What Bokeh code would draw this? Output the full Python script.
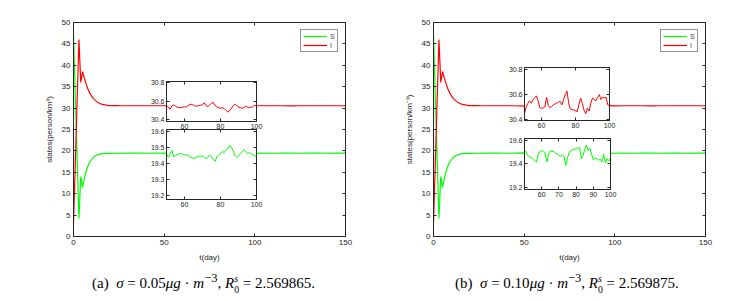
from bokeh.plotting import figure
from bokeh.models import Range1d, FixedTicker, LinearAxis, Div, InlineStyleSheet
from bokeh.embed import file_html
from bokeh.resources import INLINE

# ---------------- data ----------------
# early transient (days) shared by both panels
t_early = [0, 3, 4, 5, 6, 7, 8, 9, 10, 11, 12, 13, 14, 15, 16, 18, 20, 25, 30, 35, 40, 45]
I_early = [3.0, 46.0, 36.0, 38.5, 37.0, 35.6, 34.4, 33.5, 32.8, 32.2, 31.8, 31.45, 31.2, 31.0,
           30.85, 30.7, 30.6, 30.56, 30.55, 30.545, 30.55, 30.545]
S_early = [47.0, 4.2, 14.0, 11.5, 13.6, 15.3, 16.5, 17.4, 18.0, 18.5, 18.8, 19.05, 19.2, 19.3,
           19.36, 19.42, 19.44, 19.455, 19.46, 19.46, 19.455, 19.46]

# zoomed window, one value per day 50..100
t_mid = list(range(50, 101))
I_a = [30.546, 30.54, 30.512, 30.55, 30.557, 30.545, 30.53, 30.528, 30.53, 30.535,
       30.536, 30.538, 30.55, 30.562, 30.565, 30.555, 30.545, 30.546, 30.553, 30.555,
       30.56, 30.582, 30.55, 30.538, 30.56, 30.575, 30.586, 30.55, 30.536, 30.53,
       30.522, 30.528, 30.52, 30.5, 30.482, 30.495, 30.52, 30.55, 30.565, 30.55,
       30.536, 30.53, 30.522, 30.53, 30.545, 30.536, 30.53, 30.533, 30.54, 30.555, 30.55]
S_a = [19.459, 19.438, 19.46, 19.48, 19.44, 19.45, 19.455, 19.458, 19.46, 19.457,
       19.453, 19.452, 19.45, 19.44, 19.435, 19.428, 19.432, 19.44, 19.445, 19.44,
       19.449, 19.44, 19.428, 19.44, 19.453, 19.44, 19.425, 19.412, 19.44, 19.452,
       19.459, 19.474, 19.466, 19.48, 19.49, 19.511, 19.5, 19.48, 19.45, 19.438,
       19.445, 19.46, 19.474, 19.486, 19.47, 19.46, 19.466, 19.46, 19.453, 19.446, 19.443]
I_b = [30.447, 30.50, 30.53, 30.55, 30.53, 30.558, 30.575, 30.59, 30.55, 30.495,
       30.489, 30.492, 30.5, 30.578, 30.511, 30.494, 30.505, 30.517, 30.525, 30.53,
       30.54, 30.544, 30.517, 30.56, 30.6, 30.628, 30.53, 30.483, 30.478, 30.475,
       30.468, 30.461, 30.52, 30.572, 30.53, 30.475, 30.444, 30.49, 30.467, 30.53,
       30.572, 30.56, 30.55, 30.578, 30.6, 30.56, 30.58, 30.572, 30.58, 30.517, 30.51]
S_b = [19.52, 19.5, 19.469, 19.456, 19.45, 19.44, 19.428, 19.414, 19.483, 19.505,
       19.511, 19.503, 19.497, 19.414, 19.483, 19.511, 19.505, 19.503, 19.49, 19.483,
       19.47, 19.461, 19.478, 19.461, 19.386, 19.45, 19.5, 19.511, 19.52, 19.525,
       19.525, 19.533, 19.539, 19.442, 19.469, 19.52, 19.558, 19.511, 19.531, 19.483,
       19.433, 19.45, 19.442, 19.428, 19.44, 19.414, 19.483, 19.406, 19.442, 19.422, 19.45]

# tail
t_late = [105, 110, 115, 120, 125, 130, 135, 140, 145, 150]
I_late = [30.55, 30.545, 30.55, 30.54, 30.55, 30.545, 30.55, 30.55, 30.545, 30.55]
S_late = [19.46, 19.455, 19.46, 19.465, 19.455, 19.46, 19.46, 19.455, 19.46, 19.46]

main_xticks = [0, 50, 100, 150]
main_yticks = [0, 5, 10, 15, 20, 25, 30, 35, 40, 45, 50]

captions = [
    "(a)&nbsp;&nbsp;<i>σ</i> = 0.05<i>μg</i> · <i>m</i><sup>−3</sup>, <i>R</i>"
    "<span style='display:inline-block;vertical-align:-0.5em;font-size:0.65em;line-height:1.1;'><i>s</i><br>0</span>"
    " = 2.569865.",
    "(b)&nbsp;&nbsp;<i>σ</i> = 0.10<i>μg</i> · <i>m</i><sup>−3</sup>, <i>R</i>"
    "<span style='display:inline-block;vertical-align:-0.5em;font-size:0.65em;line-height:1.1;'><i>s</i><br>0</span>"
    " = 2.569875.",
]

GREEN = "#00ff00"
RED = "#ff0000"
AXC = "#262626"
FONT = "Liberation Sans"


def place(model, left, top):
    model.stylesheets = [InlineStyleSheet(css=(
        ":host { position: absolute !important; left: %dpx !important; top: %dpx !important; "
        "margin: 0 !important; }" % (left, top)))]


def style_axis(ax, ticks, fs, labels=True):
    ax.ticker = FixedTicker(ticks=ticks)
    ax.major_tick_in = 3
    ax.major_tick_out = 0
    ax.minor_tick_line_color = None
    ax.axis_line_color = AXC
    ax.major_tick_line_color = AXC
    ax.major_label_text_font = FONT
    if labels:
        ax.major_label_text_color = AXC
        ax.major_label_text_font_size = fs
        ax.major_label_standoff = 3
    else:
        # mirror axis: ticks only, labels not drawn
        ax.major_label_text_color = None
        ax.major_label_text_font_size = "1px"
        ax.major_label_standoff = 0


def add_box_axes(p, xticks, yticks):
    r = LinearAxis()
    style_axis(r, yticks, "1px", labels=False)
    p.add_layout(r, "right")
    a = LinearAxis()
    style_axis(a, xticks, "1px", labels=False)
    p.add_layout(a, "above")


def make_main(fx, fy, S, I, ylab):
    p = figure(frame_width=272, frame_height=214,
               x_range=Range1d(0, 150), y_range=Range1d(0, 50),
               min_border_left=65, min_border_right=15, min_border_top=14, min_border_bottom=30,
               output_backend="svg", toolbar_location=None)
    place(p, fx - 65, fy - 14)
    p.grid.visible = False
    p.outline_line_color = AXC
    p.background_fill_color = "white"
    p.border_fill_color = "white"
    t_all = t_early + t_mid + t_late
    p.line(t_all, S, color=GREEN, line_width=1.2, legend_label="S")
    p.line(t_all, I, color=RED, line_width=1.2, legend_label="I")
    style_axis(p.xaxis[0], main_xticks, "8px")
    style_axis(p.yaxis[0], main_yticks, "8px")
    p.xaxis[0].axis_label = "t(day)"
    p.yaxis[0].axis_label = ylab
    for ax in (p.xaxis[0], p.yaxis[0]):
        ax.axis_label_text_font = FONT
        ax.axis_label_text_font_size = "8px"
        ax.axis_label_text_font_style = "normal"
        ax.axis_label_text_color = AXC
        ax.axis_label_standoff = 5
    add_box_axes(p, main_xticks, main_yticks)
    lg = p.legend[0]
    lg.location = "top_right"
    lg.margin = 7
    lg.padding = 2
    lg.spacing = 1
    lg.border_line_color = AXC
    lg.border_line_width = 1
    lg.background_fill_alpha = 1
    lg.label_text_font = FONT
    lg.label_text_font_size = "7px"
    lg.label_height = 8
    lg.label_width = 5
    lg.glyph_height = 8
    lg.glyph_width = 24
    lg.label_standoff = 3
    return p


def make_inset(fx, fy, fw, fh, y, yr, yticks, xticks, color):
    p = figure(frame_width=fw, frame_height=fh,
               x_range=Range1d(50, 100), y_range=Range1d(*yr),
               min_border_left=24, min_border_right=8, min_border_top=6, min_border_bottom=12,
               output_backend="svg", toolbar_location=None)
    place(p, fx - 24, fy - 6)
    p.grid.visible = False
    p.outline_line_color = AXC
    p.background_fill_color = "white"
    p.border_fill_alpha = 0
    p.line(t_mid, y, color=color, line_width=1.0)
    style_axis(p.xaxis[0], xticks, "7px")
    style_axis(p.yaxis[0], yticks, "7px")
    p.xaxis[0].major_label_standoff = 2
    p.yaxis[0].major_label_standoff = 2
    add_box_axes(p, xticks, yticks)
    return p


main_a = make_main(73, 22, S_early + S_a + S_late, I_early + I_a + I_late, "states(person/km³)")
main_b = make_main(433, 22, S_early + S_b + S_late, I_early + I_b + I_late, "states(person/km⁻³)")

ins_a_lo = make_inset(166, 129, 90, 70, S_a, (19.175, 19.61), [19.2, 19.3, 19.4, 19.5, 19.6],
                      [60, 80, 100], GREEN)
ins_a_up = make_inset(166, 81, 90, 40, I_a, (30.38, 30.81), [30.4, 30.6, 30.8],
                      [60, 80, 100], RED)
ins_b_lo = make_inset(524, 138, 86, 51, S_b, (19.18, 19.615), [19.2, 19.4, 19.6],
                      [60, 70, 80, 90, 100], GREEN)
ins_b_up = make_inset(524, 67, 85, 53, I_b, (30.39, 30.82), [30.4, 30.6, 30.8],
                      [60, 80, 100], RED)

cap_styles = {"font-family": "Liberation Serif", "font-size": "15px", "color": "#000000",
              "white-space": "nowrap"}
cap_a = Div(text=captions[0], width=260, height=20, styles=cap_styles)
cap_b = Div(text=captions[1], width=260, height=20, styles=cap_styles)
place(cap_a, 92, 270)
place(cap_b, 455, 270)

roots = [main_a, main_b, ins_a_lo, ins_a_up, ins_b_lo, ins_b_up, cap_a, cap_b]

open("out.html", "w").write(file_html(roots, INLINE))
